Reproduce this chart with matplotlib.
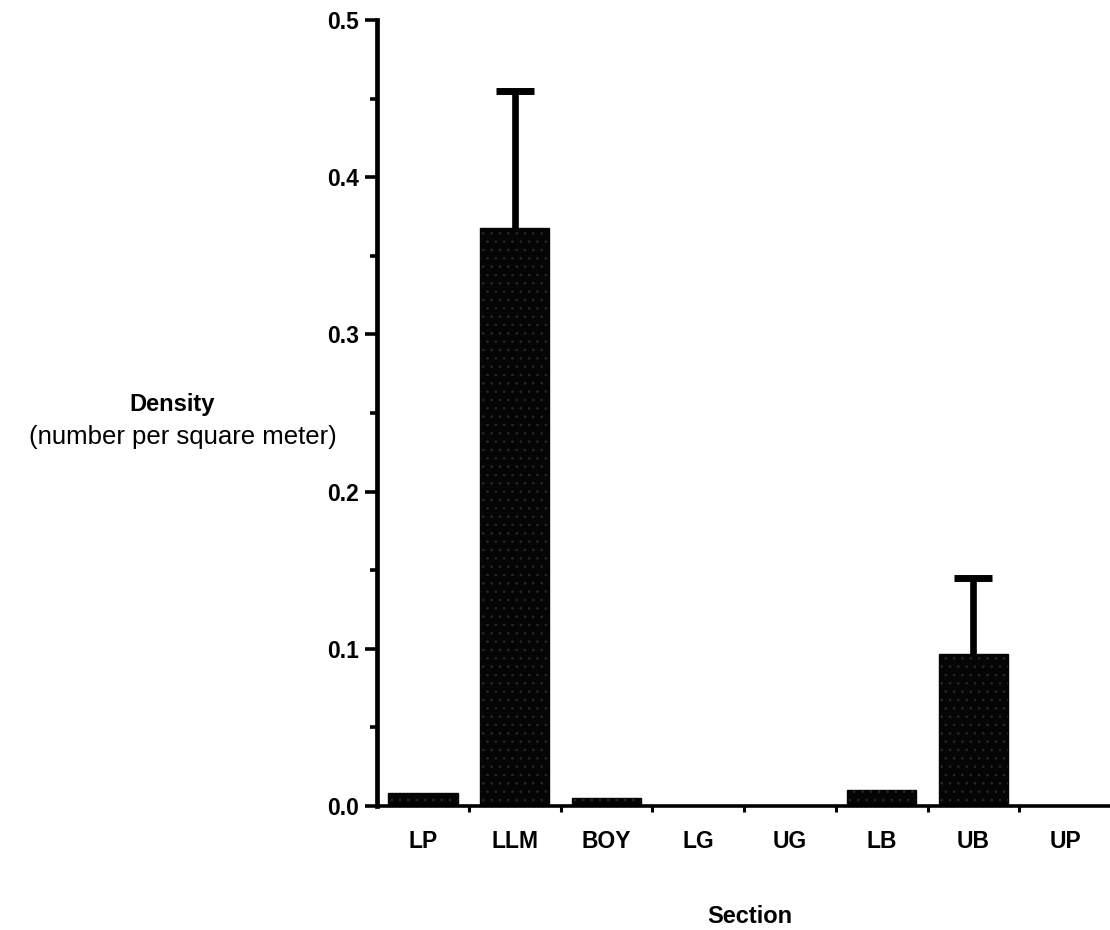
import matplotlib
matplotlib.use("Agg")
import matplotlib.pyplot as plt
import numpy as np

# Mean density by river section, with upper standard-error bars
sections = ["LP", "LLM", "BOY", "LG", "UG", "LB", "UB", "UP"]
density = [0.008, 0.368, 0.005, 0.0, 0.0, 0.010, 0.097, 0.0]
upper_err = [0.0, 0.087, 0.0, 0.0, 0.0, 0.0, 0.048, 0.0]

plt.rcParams["font.family"] = ["Liberation Sans", "DejaVu Sans"]

fig = plt.figure(figsize=(11.10, 9.30), dpi=100)
ax = fig.add_axes([377 / 1110, 1 - 806 / 930, 734 / 1110, (806 - 20) / 930])

x = np.arange(len(sections))
ax.bar(x, density, width=0.76, color="#050505", edgecolor="#050505", linewidth=1, zorder=2)
# faint stipple on the dark fill
plt.rcParams["hatch.linewidth"] = 0.6
ax.bar(x, density, width=0.76, facecolor="none", edgecolor="#2a2a2a", hatch="..",
       linewidth=0, zorder=3)

has_err = [i for i, e in enumerate(upper_err) if e > 0]
err_x = [x[i] for i in has_err]
err_y = [density[i] for i in has_err]
_, caps, _ = ax.errorbar(err_x, err_y,
                         yerr=[[0] * len(has_err), [upper_err[i] for i in has_err]],
                         fmt="none", ecolor="black", elinewidth=4.8, capsize=14,
                         capthick=5, zorder=1)
# keep only the caps at the top of each bar
for cap in caps:
    if np.allclose(cap.get_ydata(), err_y):
        cap.set_visible(False)

ax.set_xlim(-0.5, 7.5)
ax.set_ylim(0, 0.5)

ax.spines["top"].set_visible(False)
ax.spines["right"].set_visible(False)
ax.spines["left"].set_linewidth(3.4)
ax.spines["bottom"].set_linewidth(2.6)

ax.set_yticks(np.arange(0, 0.51, 0.1))
ax.set_yticklabels([f"{v:.1f}" for v in np.arange(0, 0.51, 0.1)])
ax.set_yticks(np.arange(0.05, 0.5, 0.1), minor=True)
ax.tick_params(axis="y", which="major", direction="out", length=9, width=2.6, pad=4,
               labelsize=16.5)
ax.tick_params(axis="y", which="minor", direction="out", length=5, width=2.6)

ax.set_xticks(x)
ax.set_xticklabels(sections)
ax.set_xticks(np.arange(0.5, 7.0, 1.0), minor=True)
ax.tick_params(axis="x", which="major", length=0, pad=17, labelsize=16.5)
ax.tick_params(axis="x", which="minor", direction="out", length=4, width=2.2)

for lbl in ax.get_xticklabels() + ax.get_yticklabels():
    lbl.set_fontweight("bold")

fig.text(172 / 1110, 1 - 404 / 930, "Density", ha="center", va="center",
         fontsize=17, fontweight="bold")
fig.text(337 / 1110, 1 - 437 / 930, "(number per square meter)", ha="right",
         va="center", fontsize=18.5)
fig.text(750 / 1110, 1 - 916 / 930, "Section", ha="center", va="center",
         fontsize=17, fontweight="bold")

fig.savefig("out.png", dpi=100)
